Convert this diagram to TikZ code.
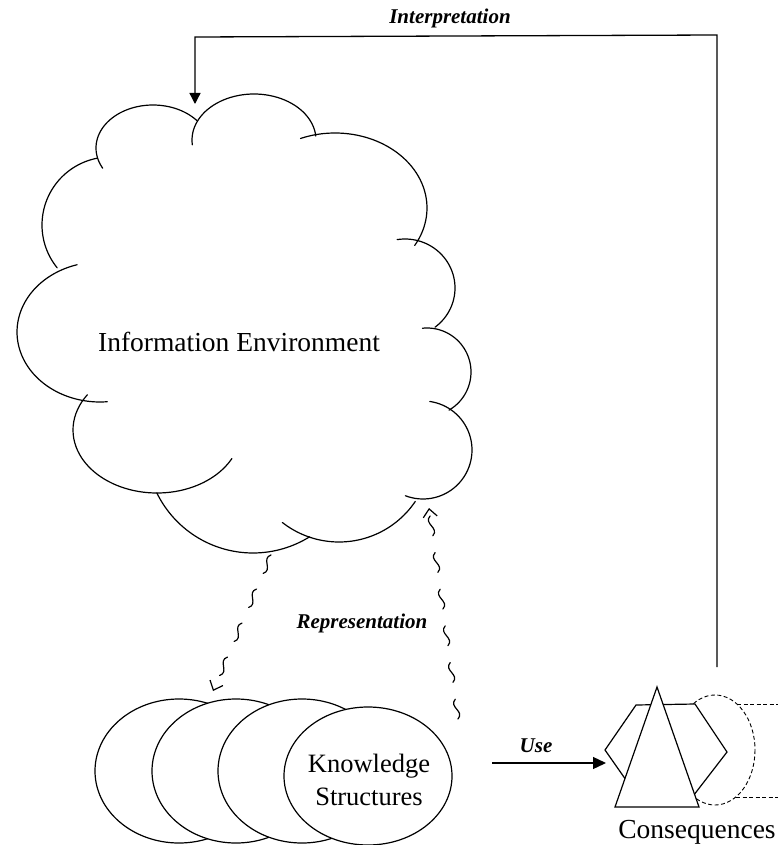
\documentclass[tikz,border=0pt]{standalone}
\usepackage{fontspec}
\setmainfont{Liberation Serif}
\usetikzlibrary{arrows.meta,decorations.markings,shapes.geometric}
% one scalloped arc of the cloud: centre (#1,#2), radii #3/#4, angles #5..#6
\newcommand\cloudlobe[6]{%
  \draw[outline] plot[domain=#5:#6, samples=50, smooth] ({#1+#3*cos(\x)},{#2+#4*sin(\x)});}
\begin{document}
\begin{tikzpicture}[x=1pt, y=-1pt,
  outline/.style={line width=1.2pt, line cap=round},
  solidshape/.style={line width=1.2pt, fill=white, line join=miter},
  ksellipse/.style={draw, ellipse, line width=1.2pt, fill=white, inner sep=0pt,
                    minimum width=168pt, minimum height=144pt},
  bigtext/.style={font=\fontsize{27.5}{33}\selectfont, inner sep=0pt},
  tag/.style={font=\fontsize{21}{25}\selectfont\bfseries\itshape, inner sep=0pt},
  flow/.style={line width=1.3pt},
  squig/.style={line width=1.2pt, line cap=round},
  % broken wavy connector: separate S-strokes, then an open barb at the end
  wavy/.style={draw=none, postaction={decorate}, decoration={markings,
      mark=between positions 0 and #1 step 37pt with
        {\draw[squig] (0,0) .. controls (7,8) and (13,-8) .. (20,0);},
      mark=at position 1 with
        {\arrow[line width=1.2pt]{Straight Barb[length=8pt, width=14pt]}}}},
  ghost/.style={line width=0.9pt, dash pattern=on 4pt off 2.5pt},
]
\useasboundingbox (0,0) rectangle (778,845);

% ---------------- Information Environment cloud ----------------
\cloudlobe{110}{225}{68}{68}{141}{259}
\cloudlobe{153}{148}{57}{43}{152}{320}
\cloudlobe{254}{140}{62}{46}{174}{355}
\cloudlobe{335}{208}{92}{75}{248}{390}
\cloudlobe{405}{288}{50}{49}{261}{413}
\cloudlobe{427}{372}{44}{44}{264}{420}
\cloudlobe{423}{450}{49}{49}{278}{471}
\cloudlobe{339}{450}{92}{92}{34}{128}
\cloudlobe{253}{446}{107}{107}{58}{154}
\cloudlobe{157}{430}{84}{63}{27}{214}
\cloudlobe{100}{332}{83}{70}{85}{254}
\node[bigtext, anchor=base] (ie) at (239,351) {Information Environment};

% ---------------- Knowledge structures ----------------
\node[ksellipse] (k1) at (179,771) {};
\node[ksellipse] (k2) at (236,771) {};
\node[ksellipse] (k3) at (302,771) {};
\node[ksellipse, minimum height=138pt] (k4) at (368,776) {};
\node[bigtext, font=\fontsize{26.5}{33}\selectfont, align=center] (kstext) at (369,780)
  {Knowledge\\Structures};

% ---------------- Consequences ----------------
\draw[ghost] (715,750) ellipse [x radius=40, y radius=55];
\coordinate (gtA) at (737,704);
\coordinate (gtB) at (778,704);
\coordinate (gbA) at (736,797);
\coordinate (gbB) at (778,797);
\draw[ghost] (gtA) -- (gtB);
\draw[ghost] (gbA) -- (gbB);
\draw[solidshape] (605,750) -- (636,705) -- (695,704) -- (727,752) -- (690,800)
  -- (640,800) -- cycle;
\draw[solidshape] (657,687) -- (699,807) -- (615,807) -- cycle;
\node[bigtext, anchor=base] (cons) at (697,838) {Consequences};

% ---------------- connectors ----------------
\coordinate (conTop) at (717,667);
\coordinate (loopR) at (717,35);
\coordinate (loopL) at (195,37);
\coordinate (ieTop) at (195,104);
\draw[flow, -{Triangle[length=11pt, width=11pt]}] (conTop) -- (loopR) -- (loopL) -- (ieTop);
\node[tag, anchor=base] (interp) at (450,24) {Interpretation};

\coordinate (repFrom) at (271,555);
\coordinate (repTo) at (213,691);
\path[wavy=0.85] (repFrom) -- (repTo);
\coordinate (upFrom) at (458,719);
\coordinate (upTo) at (429,508);
\path[wavy=0.9] (upFrom) -- (upTo);
\node[tag, anchor=base] (rep) at (362,628) {Representation};

\coordinate (useFrom) at (492,763);
\coordinate (useTo) at (606,763);
\draw[flow, -{Triangle[length=13pt, width=12pt]}] (useFrom) -- (useTo);
\node[tag, anchor=base] (use) at (536,752) {Use};
\end{tikzpicture}
\end{document}
